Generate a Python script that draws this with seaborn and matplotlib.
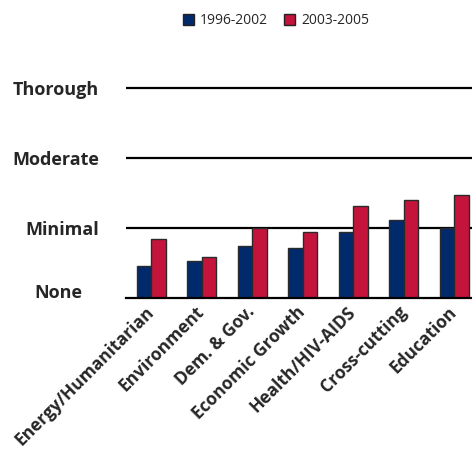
import pandas as pd
import matplotlib
matplotlib.use("Agg")
import matplotlib.pyplot as plt
from matplotlib.transforms import ScaledTranslation
import seaborn as sns

categorias = ["Energy/Humanitarian", "Environment", "Dem. & Gov.", "Economic Growth",
              "Health/HIV-AIDS", "Cross-cutting", "Education"]
serie_1996 = [0.46, 0.53, 0.75, 0.71, 0.94, 1.11, 1.00]
serie_2003 = [0.84, 0.58, 1.00, 0.95, 1.32, 1.40, 1.47]
periodos = ["1996-2002", "2003-2005"]
niveis = ["None", "Minimal", "Moderate", "Thorough"]

df = pd.DataFrame({
    "Categoria": categorias * 2,
    "Valor": serie_1996 + serie_2003,
    "Periodo": [periodos[0]] * len(categorias) + [periodos[1]] * len(categorias),
})

sns.set_style("white")
plt.rcParams['font.family'] = ['Open Sans', 'DejaVu Sans']

fig = plt.figure(figsize=(4.72, 4.5), dpi=100)
ax = fig.add_axes([126 / 472, 152 / 450, 353.5 / 472, 238 / 450])

sns.barplot(data=df, x="Categoria", y="Valor", hue="Periodo",
            palette=["#002A6C", "#C4143C"], saturation=1, width=0.58, gap=0,
            edgecolor="#2a2a2a", linewidth=1.0, ax=ax, legend=True)

ax.set_xlim(-0.5, len(categorias) - 0.5)
ax.set_ylim(0, 3.4)
ax.set_xlabel("")
ax.set_ylabel("")

# linhas horizontais dos níveis
for v in [1, 2, 3]:
    ax.axhline(v, color="black", lw=1.6, zorder=0)

for s in ["top", "right", "left"]:
    ax.spines[s].set_visible(False)
ax.spines["bottom"].set_linewidth(1.6)
ax.spines["bottom"].set_color("black")

ax.set_yticks(range(len(niveis)))
ax.set_yticklabels(niveis, fontsize=13, fontweight="bold", ha="right")
ax.tick_params(axis="y", length=0, pad=19.5)
# "None" fica um pouco acima da linha de base e mais para a esquerda
lbl_none = ax.get_yticklabels()[0]
lbl_none.set_transform(lbl_none.get_transform() + ScaledTranslation(-12 / 72, 5 / 72, fig.dpi_scale_trans))

ax.set_xticks(range(len(categorias)))
ax.set_xticks([i - 0.5 for i in range(len(categorias))], minor=True)
ax.tick_params(axis="x", which="major", length=0, pad=8)
ax.tick_params(axis="x", which="minor", length=4, width=1.5, color="black", direction="out")
ax.set_xticklabels(categorias, rotation=45, ha="right", va="center",
                   rotation_mode="anchor", fontsize=12.5, fontweight="bold")

leg = ax.legend(loc="upper center", bbox_to_anchor=((276 - 126) / 353.5, 1 + 59 / 238),
                ncol=2, frameon=False, fontsize=10, handlelength=0.8, handleheight=0.8,
                columnspacing=1.2, handletextpad=0.4)
for h in leg.legend_handles:
    h.set_edgecolor("#222222")

fig.savefig("out.png", dpi=100)
